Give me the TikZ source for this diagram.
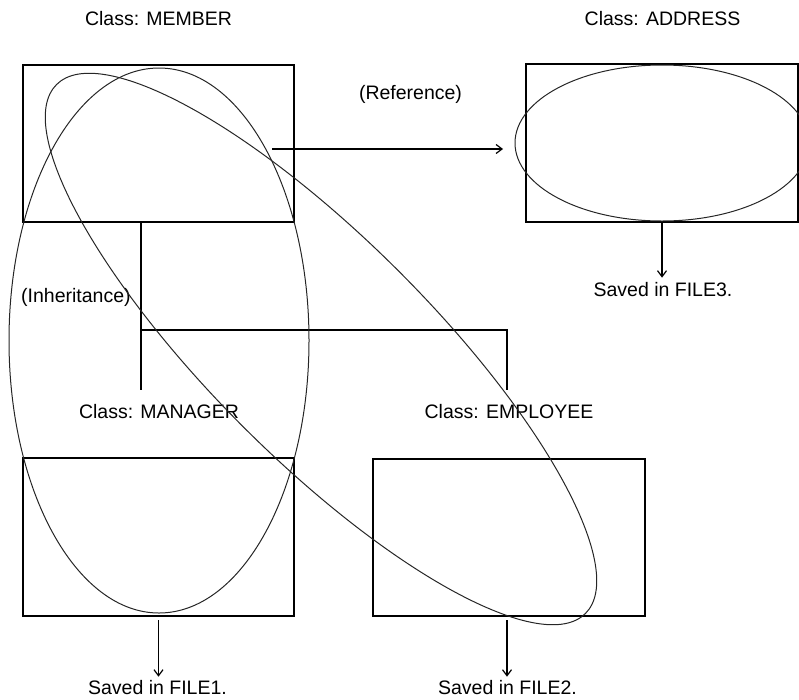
\documentclass[tikz,border=0pt]{standalone}
\usepackage{fontspec}
\setmainfont{Liberation Sans}
\usetikzlibrary{arrows.meta}
\begin{document}
\begin{tikzpicture}[x=1pt,y=-1pt,
  box/.style={draw, line width=1.2pt, inner sep=0pt, outer sep=0pt},
  lbl/.style={font=\fontsize{19.5}{23}\selectfont, inner sep=0pt, anchor=base},
  conn/.style={line width=1.2pt},
  arr/.style={conn, -{Straight Barb[length=6pt,width=9pt]}},
  oval/.style={line width=1pt, draw=black!85}]
\useasboundingbox (0,0) rectangle (799,699);
\clip (0,0) rectangle (799,699);
% boxes
\node[box, minimum width=271pt, minimum height=157pt] (member) at (158.5,143.5) {};
\node[box, minimum width=272pt, minimum height=158pt] (address) at (662,143) {};
\node[box, minimum width=271pt, minimum height=158pt] (manager) at (158.5,537) {};
\node[box, minimum width=272pt, minimum height=157pt] (employee) at (509,537.5) {};
% labels
\node[lbl] (tmember) at (158.5,25.5) {Class: MEMBER};
\node[lbl] (taddress) at (662.5,25.5) {Class: ADDRESS};
\node[lbl] (tref) at (410.5,99) {(Reference)};
\node[lbl, anchor=base west] (tinh) at (21,302.5) {(Inheritance)};
\node[lbl] (tmanager) at (159,418) {Class: MANAGER};
\node[lbl] (temployee) at (509,418) {Class: EMPLOYEE};
\node[lbl] (file1) at (157.5,694) {Saved in FILE1.};
\node[lbl] (file2) at (507.5,694) {Saved in FILE2.};
\node[lbl] (file3) at (663,296) {Saved in FILE3.};
% reference arrow
\coordinate (refA) at (272,149);
\coordinate (refB) at (503,149);
\draw[arr] (refA) -- (refB);
% inheritance lines
\coordinate (j1) at (141,330);
\coordinate (j2) at (507,330);
\coordinate (mgrTop) at (141,390);
\coordinate (empTop) at (507,390);
\draw[conn] (member.south -| j1) -- (mgrTop);
\draw[conn] (j1) -- (j2) -- (empTop);
% storage arrows
\draw[arr] ([yshift=-4pt]manager.south) -- ([yshift=3pt]manager.south |- file1.north);
\draw[arr] ([xshift=-2pt,yshift=-4pt]employee.south) -- ([xshift=-2pt,yshift=3pt]employee.south |- file2.north);
\draw[arr] (address.south) -- ([yshift=4pt]address.south |- file3.north);
% ellipses
\draw[oval] (159,340.5) ellipse [x radius=150, y radius=272.5];
\draw[oval, rotate around={-45:(321,349)}] (321,349) ellipse [x radius=374, y radius=110];
\draw[oval] (662,143) ellipse [x radius=147, y radius=78];
\end{tikzpicture}
\end{document}
